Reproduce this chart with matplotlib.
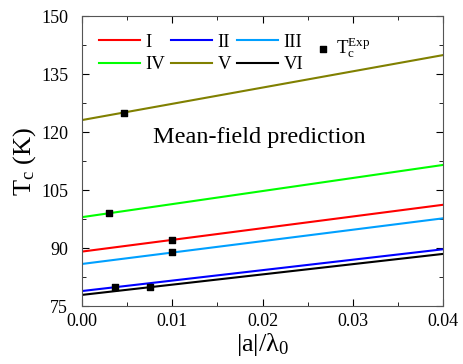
import numpy as np
import matplotlib
matplotlib.use('Agg')
import matplotlib.pyplot as plt
from matplotlib.ticker import MultipleLocator, FormatStrFormatter

plt.rcParams['font.family'] = 'Liberation Serif'
plt.rcParams['mathtext.fontset'] = 'custom'
plt.rcParams['mathtext.rm'] = 'Liberation Serif'
plt.rcParams['mathtext.it'] = 'Liberation Serif:italic'

# line endpoints at |a|/lambda0 = 0 and 0.04
x_ends = [0.0, 0.04]
labels = ['I', 'II', 'III', 'IV', 'V', 'VI']
colors = ['#ff0000', '#0000ff', '#00a0ff', '#00ff00', '#808000', '#000000']
tc_start = [89.1, 78.9, 85.9, 98.0, 123.1, 77.9]
tc_end = [101.2, 89.7, 97.7, 111.5, 139.9, 88.5]

# experimental points
exp_x = [0.0047, 0.003, 0.01, 0.01, 0.0037, 0.0075]
exp_y = [124.9, 99.0, 92.0, 89.0, 80.0, 80.0]

fig = plt.figure(figsize=(4.63, 3.64), dpi=100)
ax = fig.add_axes([0.177, 0.159, 0.78, 0.797])

handles = []
for lab, c, y0, y1 in zip(labels, colors, tc_start, tc_end):
    h, = ax.plot(x_ends, [y0, y1], color=c, lw=1.5, label=lab)
    handles.append(h)

pts = ax.scatter(exp_x, exp_y, marker='s', s=20, color='black', zorder=5)

ax.set_xlim(0, 0.04)
ax.set_ylim(75, 150)
ax.xaxis.set_major_locator(MultipleLocator(0.01))
ax.xaxis.set_minor_locator(MultipleLocator(0.005))
ax.yaxis.set_major_locator(MultipleLocator(15))
ax.yaxis.set_minor_locator(MultipleLocator(7.5))
ax.xaxis.set_major_formatter(FormatStrFormatter('%.2f'))
ax.tick_params(which='both', direction='in', top=True, right=True, labelsize=13)
ax.tick_params(which='major', length=5)
ax.tick_params(which='minor', length=3)
ax.tick_params(axis='y', pad=10)
ax.tick_params(axis='x', pad=5)
for s in ax.spines.values():
    s.set_color('#555555')

ax.set_xlabel(r'|a|/λ$_\mathrm{0}$', fontsize=19, labelpad=1)
ax.set_ylabel(r'T$_\mathrm{c}$ (K)', fontsize=19, labelpad=2)

# legend is row-major in the picture: I II III / IV V VI
order = [0, 3, 1, 4, 2, 5]
leg1 = ax.legend([handles[i] for i in order], [labels[i] for i in order],
                 ncol=3, loc='upper left', bbox_to_anchor=(0.01, 0.985),
                 frameon=False, fontsize=13.5, handlelength=2.2,
                 handletextpad=0.3, columnspacing=0.3, labelspacing=0.3,
                 borderaxespad=0.3)
ax.add_artist(leg1)
ax.legend([pts], [r'T$_\mathrm{c}^\mathrm{Exp}$'], loc='upper left',
          bbox_to_anchor=(0.595, 0.99), frameon=False, fontsize=13.5,
          handletextpad=0.2, handlelength=1.0)

ax.text(0.49, 0.58, 'Mean-field prediction', transform=ax.transAxes,
        ha='center', va='center', fontsize=17.5)

fig.savefig('out.png', dpi=100)
